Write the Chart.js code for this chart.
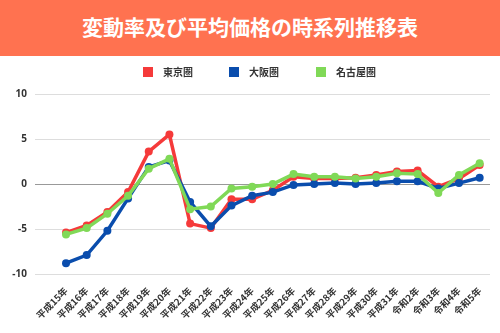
<!DOCTYPE html>
<html><head><meta charset="utf-8">
<script src="https://cdn.jsdelivr.net/npm/chart.js@4/dist/chart.umd.min.js"></script>
<style>
html,body{margin:0;padding:0;background:#fff;width:500px;height:333px;overflow:hidden;}
#banner{height:56px;background:#FF7250;color:#fff;font-family:"Noto Sans CJK JP","Noto Sans",sans-serif;font-weight:bold;font-size:21px;line-height:52px;text-align:center;}
#wrap{position:relative;width:500px;height:277px;}
#legend{position:absolute;left:0;top:0;width:500px;height:30px;font-family:"Noto Sans CJK JP",sans-serif;font-weight:bold;font-size:10px;color:#333;}
.li{position:absolute;top:11px;height:10px;line-height:10px;white-space:nowrap;}
.li span.b{display:inline-block;width:10px;height:10px;vertical-align:top;margin-right:10px;}
</style></head>
<body>
<div id="banner">変動率及び平均価格の時系列推移表</div>
<div id="wrap"><div id="legend"></div><canvas id="c" width="500" height="277"></canvas></div>
<script>
const categories = ["平成15年","平成16年","平成17年","平成18年","平成19年","平成20年","平成21年","平成22年","平成23年","平成24年","平成25年","平成26年","平成27年","平成28年","平成29年","平成30年","平成31年","令和2年","令和3年","令和4年","令和5年"];
const tokyo  = [-5.4,-4.6,-3.1,-0.9,3.6,5.5,-4.4,-4.9,-1.7,-1.7,-0.7,0.8,0.6,0.6,0.7,1.0,1.4,1.5,-0.3,0.6,2.1];
const osaka  = [-8.8,-7.9,-5.2,-1.6,1.9,2.6,-2.0,-4.7,-2.4,-1.3,-0.9,-0.1,0.0,0.1,0.0,0.1,0.3,0.3,-0.5,0.1,0.7];
const nagoya = [-5.6,-4.9,-3.3,-1.3,1.7,2.8,-2.8,-2.5,-0.5,-0.3,0.0,1.1,0.8,0.8,0.6,0.8,1.2,1.1,-1.0,1.0,2.3];
const seriesNames = ["東京圏","大阪圏","名古屋圏"];
const colors = ["#F53A3A","#0A4DAD","#80D957"];
const yTicks = [-10,-5,0,5,10];

// legend (HTML), built from series names and colours
const legendX = [143,229,316];
const lg = document.getElementById('legend');
seriesNames.forEach((n,i)=>{
  const d=document.createElement('div'); d.className='li'; d.style.left=legendX[i]+'px';
  const b=document.createElement('span'); b.className='b'; b.style.background=colors[i];
  d.appendChild(b); d.appendChild(document.createTextNode(n)); lg.appendChild(d);
});

const toPts = arr => arr.map((v,i)=>({x:i,y:v}));
const mk = (name,data,col,order) => ({label:name,data:toPts(data),borderColor:col,backgroundColor:col,borderWidth:3.5,pointRadius:4,pointHoverRadius:4,pointBackgroundColor:col,pointBorderColor:col,pointBorderWidth:0,tension:0,order:order});

new Chart(document.getElementById('c'),{
  type:'line',
  data:{datasets:[mk(seriesNames[0],tokyo,colors[0],3),mk(seriesNames[1],osaka,colors[1],2),mk(seriesNames[2],nagoya,colors[2],1)]},
  options:{
    responsive:false,animation:false,
    layout:{padding:{left:0,right:10,top:38,bottom:0}},
    plugins:{tooltip:{enabled:false},legend:{display:false}},
    scales:{
      x:{type:'linear',min:-1.5,max:20.5,
        grid:{display:false},border:{display:false},
        afterBuildTicks(axis){ axis.ticks = categories.map((_,i)=>({value:i})); },
        afterFit(axis){ axis.height = 59; },
        ticks:{autoSkip:false,maxRotation:45,minRotation:45,color:'#333',padding:3,
          font:{family:'"Noto Sans CJK JP"',size:9.5,weight:'bold'},
          callback:(v)=>categories[v]}
      },
      y:{min:-10,max:10,
        afterBuildTicks(axis){ axis.ticks = yTicks.map(v=>({value:v})); },
        afterFit(axis){ axis.width = 35; },
        border:{display:false},
        grid:{drawTicks:false,color:(c)=>c.tick && c.tick.value===0?'#999':'#ddd',lineWidth:1},
        ticks:{color:'#333',padding:8,font:{family:'"Noto Sans","DejaVu Sans",sans-serif',size:10,weight:'bold'}}
      }
    }
  }
});
</script>
</body></html>
